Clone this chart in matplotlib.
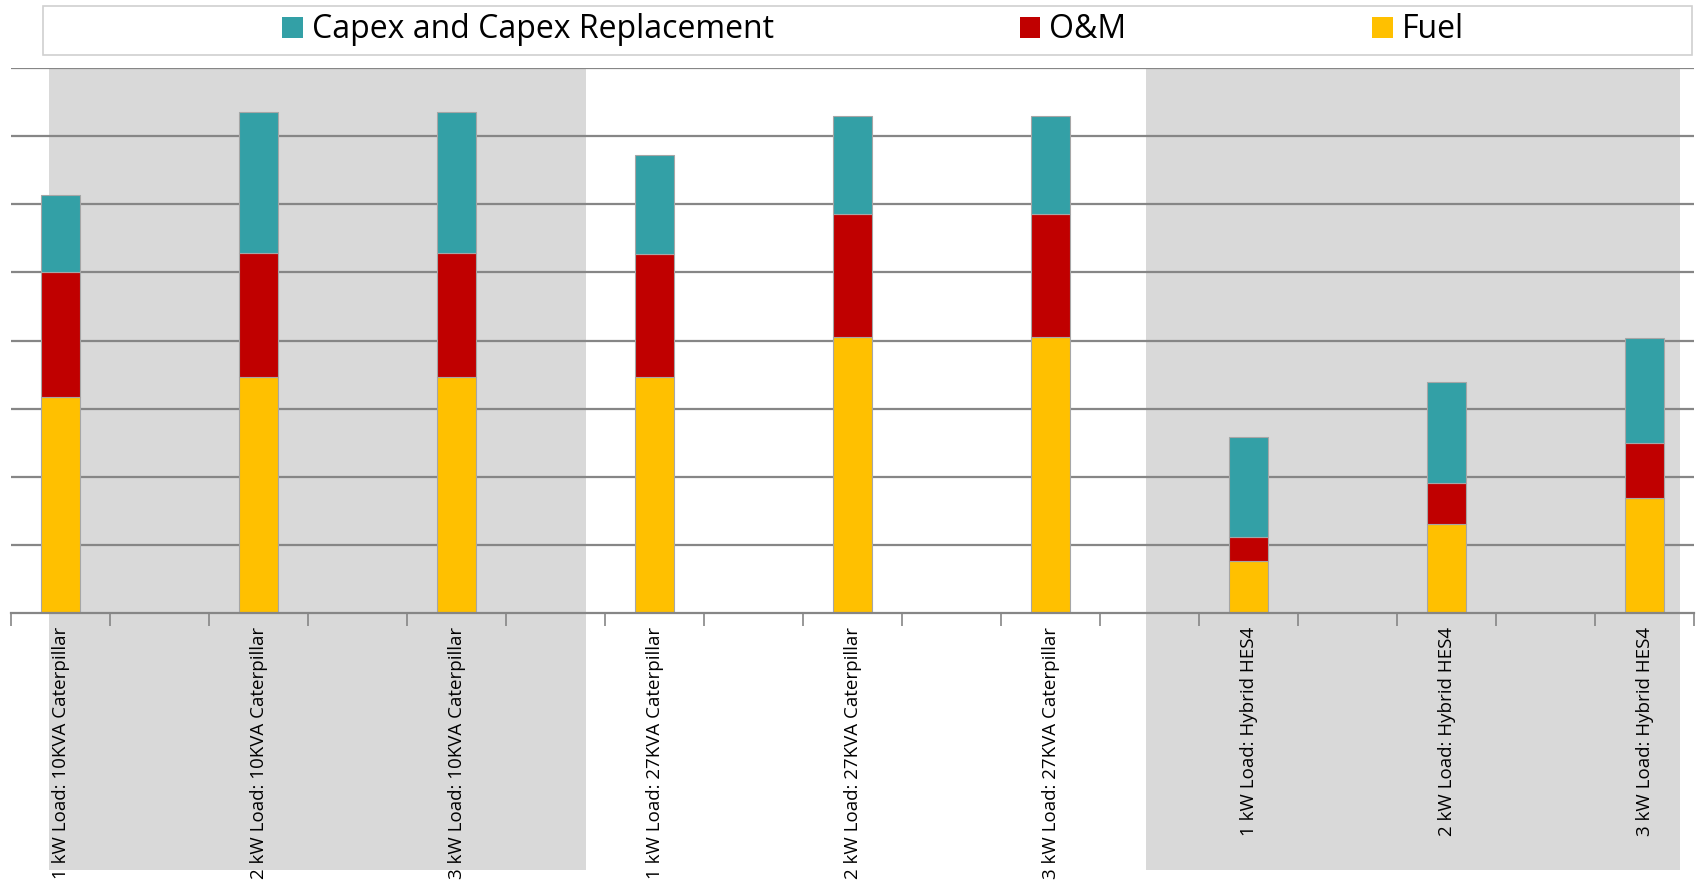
"""
Stacked cost breakdown per load / generator configuration.
"""

import matplotlib.pyplot as plt
import numpy as np
from matplotlib.patches import Rectangle

plt.rcParams["font.family"] = ["Open Sans", "DejaVu Sans"]

labels = [
    "1 kW Load: 10KVA Caterpillar",
    "2 kW Load: 10KVA Caterpillar",
    "3 kW Load: 10KVA Caterpillar",
    "1 kW Load: 27KVA Caterpillar",
    "2 kW Load: 27KVA Caterpillar",
    "3 kW Load: 27KVA Caterpillar",
    "1 kW Load: Hybrid HES4",
    "2 kW Load: Hybrid HES4",
    "3 kW Load: Hybrid HES4",
]
fuel = [3.17, 3.47, 3.47, 3.47, 4.05, 4.05, 0.76, 1.31, 1.69]
om = [1.83, 1.81, 1.81, 1.80, 1.80, 1.80, 0.36, 0.60, 0.81]
capex = [1.14, 2.08, 2.08, 1.46, 1.45, 1.45, 1.46, 1.48, 1.53]

series_names = ["Capex and Capex Replacement", "O&M", "Fuel"]
colors = {"Capex and Capex Replacement": "#33A0A6", "O&M": "#C00000", "Fuel": "#FFC000"}

# shaded backgrounds behind the 10KVA and hybrid groups (x in slot units)
shade_spans = [(-0.12, 5.31), (10.96, 16.36)]

fig = plt.figure(figsize=(17.01, 8.86), dpi=100)
ax = fig.add_axes([11 / 1701, 273 / 886, 1683 / 1701, 545 / 886])

# every bar sits on every other category slot
x = np.arange(len(labels)) * 2
n_slots = 2 * len(labels) - 1

for left, right in shade_spans:
    ax.add_patch(Rectangle((left, -0.472), right - left, 1.472,
                           transform=ax.get_xaxis_transform(),
                           facecolor="#D9D9D9", edgecolor="none",
                           clip_on=False, zorder=0))

bottom = np.zeros(len(labels))
for name, vals in [("Fuel", fuel), ("O&M", om), ("Capex and Capex Replacement", capex)]:
    ax.bar(x, vals, width=0.4, bottom=bottom, color=colors[name],
           edgecolor="#A6A6A6", linewidth=0.8, label=name, zorder=3)
    bottom += np.array(vals)

ax.set_xlim(-0.5, n_slots - 0.5)
ax.set_ylim(0, 8)
ax.set_facecolor("none")

for yv in range(1, 9):
    ax.axhline(yv, color="#868686", linewidth=1.6, zorder=1)

for s in ["left", "right", "top"]:
    ax.spines[s].set_visible(False)
ax.spines["bottom"].set_color("#868686")
ax.spines["bottom"].set_linewidth(1.6)
ax.spines["bottom"].set_zorder(4)

ax.set_yticks([])
ax.set_xticks(np.arange(n_slots + 1) - 0.5)
ax.set_xticklabels([])
ax.tick_params(axis="x", which="major", length=9, width=1.2, color="#868686")
ax.set_xticks(x, minor=True)
ax.set_xticklabels(labels, minor=True, rotation=90, va="top", ha="center",
                   fontsize=13.5)
ax.tick_params(axis="x", which="minor", length=0, pad=10)

# legend: outer frame plus a frameless legend row inside it
fig.add_artist(Rectangle((43 / 1701, 1 - 55 / 886), 1649 / 1701, 49 / 886,
                         transform=fig.transFigure, facecolor="white",
                         edgecolor="#D0D0D0", linewidth=1.2))
handles = [Rectangle((0, 0), 1, 1, facecolor=colors[n]) for n in series_names]
fig.legend(handles, series_names, loc="center", bbox_to_anchor=(873 / 1701, 1 - 30 / 886),
           ncol=3, frameon=False, fontsize=23, handlelength=0.65, handleheight=0.65,
           handletextpad=0.27, columnspacing=7.7)

fig.savefig("out.png", dpi=100)
